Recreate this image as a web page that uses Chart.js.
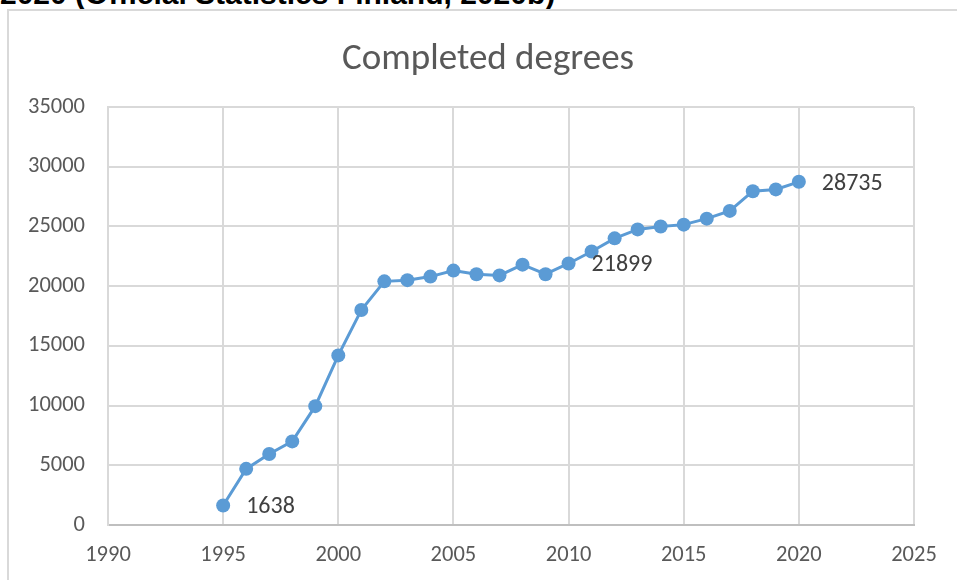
<!DOCTYPE html>
<html>
<head>
<meta charset="utf-8">
<script src="https://cdn.jsdelivr.net/npm/chart.js@4"></script>
<style>
  html, body { margin: 0; padding: 0; background: #fff; }
  body { width: 957px; height: 580px; position: relative; overflow: hidden; }
  #caption {
    position: absolute; left: 0; top: -21px;
    font: bold 30px "Liberation Sans", Arial, sans-serif; line-height: 30px;
    color: #000; white-space: nowrap;
  }
  #frame {
    position: absolute; left: 7px; top: 9px; right: -10px; bottom: -10px;
    border-top: 2px solid #d9d9d9; border-left: 2px solid #d9d9d9;
  }
  #wrap { position: absolute; left: 0; top: 0; width: 957px; height: 580px; }
</style>
</head>
<body>
<div id="caption">2020 (Official Statistics Finland, 2020b)</div>
<div id="frame"></div>
<div id="wrap"><canvas id="chart" width="957" height="580"></canvas></div>
<script>
// Completed degrees per year
const years = [1995, 1996, 1997, 1998, 1999, 2000, 2001, 2002, 2003, 2004, 2005, 2006, 2007,
               2008, 2009, 2010, 2011, 2012, 2013, 2014, 2015, 2016, 2017, 2018, 2019, 2020];
const degrees = [1638, 4700, 5950, 7000, 9950, 14200, 18000, 20400, 20500, 20800, 21300, 21000, 20900,
                 21800, 21000, 21899, 22900, 24000, 24750, 25000, 25150, 25650, 26300, 27950, 28100, 28735];
// Years whose value is written next to the marker
const labelledYears = [1995, 2010, 2020];

const FONT = "Carlito, Calibri, 'Liberation Sans Narrow', 'Open Sans', sans-serif";
const BLUE = '#5B9BD5';
const TITLE_CENTER_X = 488;

// Centre the title over the whole frame rather than the padded chart box
const titleShift = {
  id: 'titleShift',
  afterLayout(chart) {
    const t = chart.titleBlock;
    if (!t) return;
    const shift = TITLE_CENTER_X - (t.left + t.right) / 2;
    t.left += shift;
    t.right += shift;
  }
};

const valueLabels = {
  id: 'valueLabels',
  afterDatasetsDraw(chart) {
    const meta = chart.getDatasetMeta(0);
    const ctx = chart.ctx;
    ctx.save();
    ctx.font = '24px ' + FONT;
    ctx.fillStyle = '#404040';
    ctx.textAlign = 'left';
    ctx.textBaseline = 'middle';
    years.forEach((yr, i) => {
      if (!labelledYears.includes(yr)) return;
      const pt = meta.data[i];
      ctx.fillText(String(degrees[i]), pt.x + 23, pt.y + 2);
    });
    ctx.restore();
  }
};

new Chart(document.getElementById('chart'), {
  type: 'line',
  data: {
    datasets: [{
      label: 'Completed degrees',
      data: years.map((y, i) => ({ x: y, y: degrees[i] })),
      borderColor: BLUE,
      backgroundColor: BLUE,
      borderWidth: 3,
      pointRadius: 7,
      pointHoverRadius: 7,
      pointBorderWidth: 0,
      pointBackgroundColor: BLUE,
      tension: 0
    }]
  },
  options: {
    responsive: false,
    animation: false,
    events: [],
    layout: { padding: { left: 0, right: 43, top: 38, bottom: 0 } },
    plugins: {
      legend: { display: false },
      tooltip: { enabled: false },
      title: {
        display: true,
        text: 'Completed degrees',
        color: '#595959',
        font: { family: FONT, size: 37, weight: 'normal', lineHeight: 1.2 },
        padding: { top: 0, bottom: 24.6 }
      }
    },
    scales: {
      x: {
        type: 'linear',
        min: 1990, max: 2025,
        afterFit(scale) { scale.height = 55; },
        ticks: {
          stepSize: 5,
          color: '#595959',
          font: { family: FONT, size: 22.5 },
          padding: 17,
          callback: v => String(v)
        },
        grid: { color: '#d9d9d9', lineWidth: 2, drawTicks: false },
        border: { display: true, color: '#bfbfbf', width: 2 }
      },
      y: {
        min: 0, max: 35000,
        afterFit(scale) { scale.width = 108; },
        ticks: {
          stepSize: 5000,
          color: '#595959',
          font: { family: FONT, size: 22.5 },
          padding: 23,
          callback: v => String(v)
        },
        grid: { color: '#d9d9d9', lineWidth: 2, drawTicks: false },
        border: { display: true, color: '#d9d9d9', width: 2 }
      }
    }
  },
  plugins: [titleShift, valueLabels]
});
</script>
</body>
</html>
